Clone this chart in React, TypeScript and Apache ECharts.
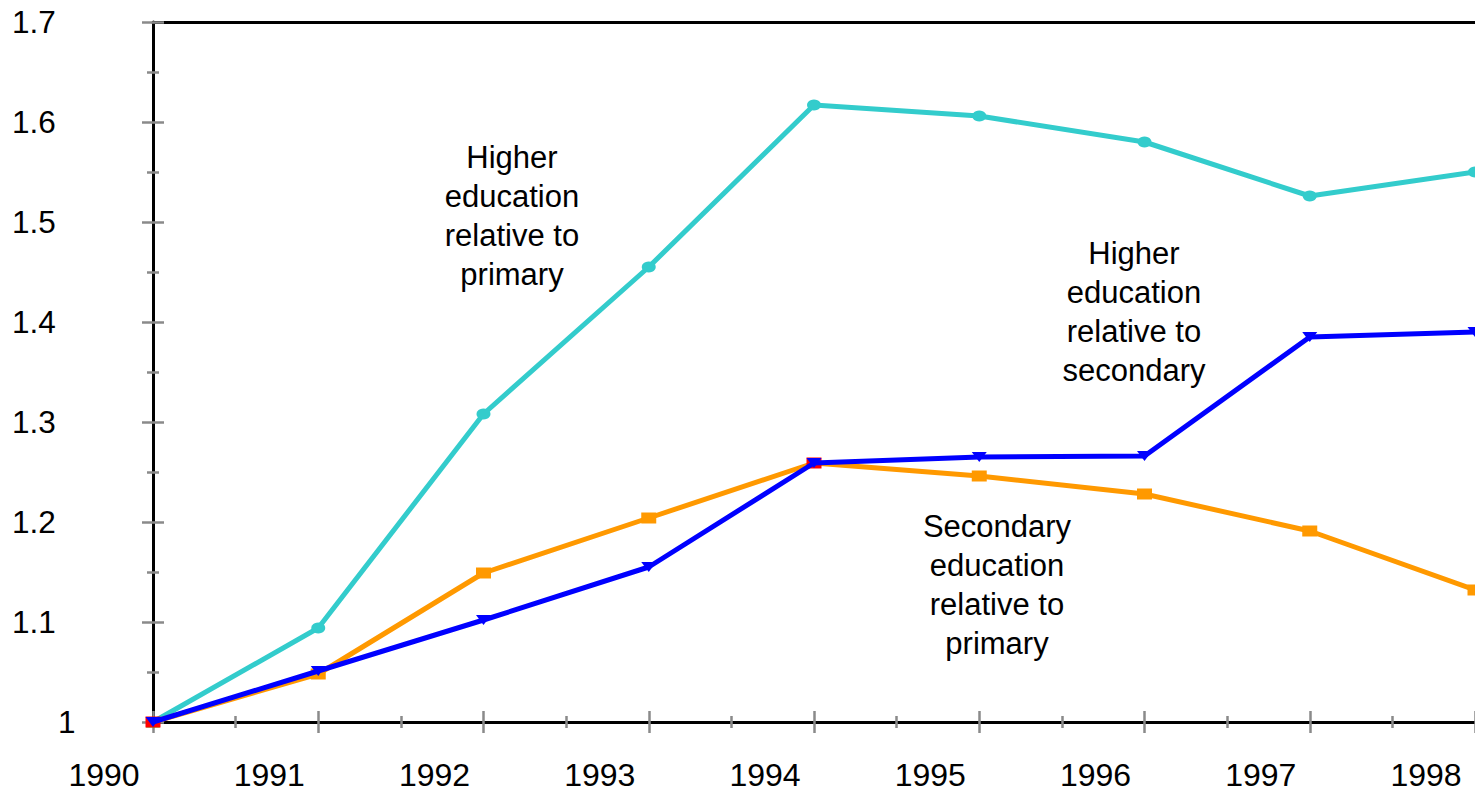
import React, { useEffect, useRef } from "react";
import * as echarts from "echarts";

const years = [1990, 1991, 1992, 1993, 1994, 1995, 1996, 1997, 1998];
const higherPrimary = [1.0, 1.094, 1.308, 1.455, 1.617, 1.606, 1.58, 1.526, 1.55];
const secondaryPrimary = [1.0, 1.048, 1.149, 1.204, 1.259, 1.246, 1.228, 1.191, 1.132];
const higherSecondary = [1.0, 1.051, 1.102, 1.155, 1.259, 1.265, 1.266, 1.385, 1.39];

const labelHigherPrimary = "Higher\neducation\nrelative to\nprimary";
const labelHigherSecondary = "Higher\neducation\nrelative to\nsecondary";
const labelSecondaryPrimary = "Secondary\neducation\nrelative to\nprimary";

const FONT = "'Liberation Sans', Arial, sans-serif";
const TICK = "#8a8a8a";

export default function App() {
  const ref = useRef<HTMLDivElement>(null);
  useEffect(() => {
    document.body.style.margin = "0";
    const chart = echarts.init(ref.current!, null, { renderer: "svg" });
    const pair = (arr: number[]) => arr.map((v, i) => [years[i], v]);
    const baseX = {
      type: "value" as const,
      min: 1990,
      max: 1998,
      interval: 1,
      position: "bottom" as const,
      splitLine: { show: false },
    };
    const baseY = {
      type: "value" as const,
      min: 1,
      max: 1.7,
      interval: 0.1,
      position: "left" as const,
      splitLine: { show: false },
    };
    const annoStyle = {
      fontSize: 31,
      fontFamily: FONT,
      fill: "#000",
      lineHeight: 39,
      align: "center",
      verticalAlign: "middle",
    };
    chart.setOption({
      animation: false,
      backgroundColor: "#ffffff",
      grid: { left: 153, right: 0, top: 22, bottom: 73, containLabel: false },
      xAxis: [
        {
          ...baseX,
          axisLine: { show: true, lineStyle: { color: "#000", width: 3 } },
          axisTick: { show: true, inside: false, length: 11, lineStyle: { color: TICK, width: 2.5 } },
          minorTick: { show: true, splitNumber: 2, length: 6, lineStyle: { color: TICK, width: 2.5 } },
          axisLabel: {
            show: true,
            margin: 37,
            fontSize: 32,
            fontFamily: FONT,
            color: "#000",
            align: "center",
            padding: [0, 98, 0, 0],
            formatter: (v: number) => String(Math.round(v)),
          },
        },
        {
          ...baseX,
          axisLine: { show: false },
          axisTick: { show: true, inside: true, length: 11, lineStyle: { color: TICK, width: 2.5 } },
          minorTick: { show: true, splitNumber: 2, length: 6, lineStyle: { color: TICK, width: 2.5 } },
          axisLabel: { show: false },
        },
        {
          ...baseX,
          position: "top" as const,
          axisLine: { show: true, lineStyle: { color: "#000", width: 3 } },
          axisTick: { show: false },
          axisLabel: { show: false },
        },
      ],
      yAxis: [
        {
          ...baseY,
          axisLine: { show: true, lineStyle: { color: "#000", width: 3 } },
          axisTick: { show: true, inside: false, length: 11, lineStyle: { color: TICK, width: 2.5 } },
          minorTick: { show: true, splitNumber: 2, length: 6, lineStyle: { color: TICK, width: 2.5 } },
          axisLabel: {
            show: true,
            margin: 141,
            align: "left",
            fontSize: 31.5,
            fontFamily: FONT,
            color: "#000",
            formatter: (v: number) => {
              const r = Number(v.toFixed(1));
              return r === 1 ? "{one|1}" : String(r);
            },
            rich: {
              one: { fontSize: 31.5, fontFamily: FONT, color: "#000", padding: [0, 0, 0, 46] },
            },
          },
        },
        {
          ...baseY,
          axisLine: { show: false },
          axisTick: { show: true, inside: true, length: 11, lineStyle: { color: TICK, width: 2.5 } },
          minorTick: { show: true, splitNumber: 2, length: 6, lineStyle: { color: TICK, width: 2.5 } },
          axisLabel: { show: false },
        },
      ],
      series: [
        {
          name: "Higher education relative to primary",
          type: "line",
          xAxisIndex: 0,
          yAxisIndex: 0,
          data: pair(higherPrimary).map((d, i) =>
            i === 0 ? { value: d, itemStyle: { color: "#22cc22" }, symbol: "triangle" } : d
          ),
          lineStyle: { color: "#33CCCC", width: 5 },
          itemStyle: { color: "#33CCCC" },
          symbol: "circle",
          symbolSize: [14, 11],
          z: 2,
        },
        {
          name: "Secondary education relative to primary",
          type: "line",
          xAxisIndex: 0,
          yAxisIndex: 0,
          data: pair(secondaryPrimary).map((d, i) =>
            i === 0 || i === 4 ? { value: d, itemStyle: { color: "#ff0000" } } : d
          ),
          lineStyle: { color: "#FF9900", width: 5 },
          itemStyle: { color: "#FF9900" },
          symbol: "rect",
          symbolSize: [15, 11],
          z: 3,
        },
        {
          name: "Higher education relative to secondary",
          type: "line",
          xAxisIndex: 0,
          yAxisIndex: 0,
          data: pair(higherSecondary),
          lineStyle: { color: "#0000FF", width: 5 },
          itemStyle: { color: "#0000FF" },
          symbol: "triangle",
          symbolRotate: 180,
          symbolSize: [15, 10],
          z: 4,
        },
      ],
      graphic: [
        { type: "text", x: 512, y: 216, style: { ...annoStyle, text: labelHigherPrimary } },
        { type: "text", x: 1134, y: 312, style: { ...annoStyle, text: labelHigherSecondary } },
        { type: "text", x: 997, y: 585, style: { ...annoStyle, text: labelSecondaryPrimary } },
      ],
    });
    return () => chart.dispose();
  }, []);
  return (
    <div
      ref={ref}
      style={{ position: "absolute", left: 0, top: 0, width: 1475, height: 795, background: "#fff" }}
    />
  );
}
